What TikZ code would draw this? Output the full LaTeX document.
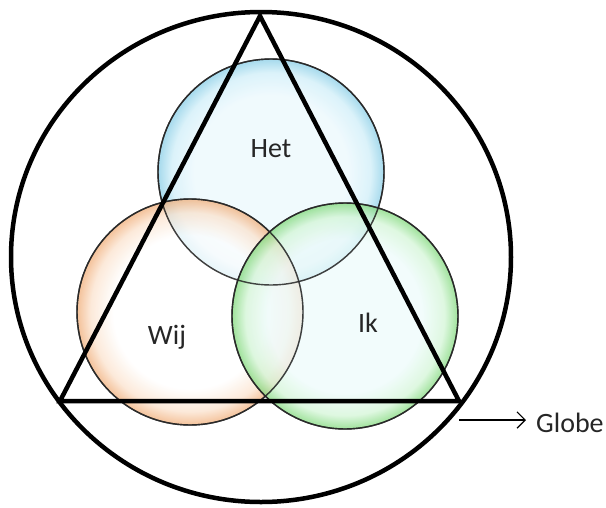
\documentclass[tikz,border=0pt]{standalone}
\usepackage{fontspec}
\setmainfont{Carlito}
\usetikzlibrary{arrows.meta}

\definecolor{hetin}{HTML}{EBF8FD}
\definecolor{hetmid}{HTML}{CFEEF8}
\definecolor{hetedge}{HTML}{88CDE6}
\definecolor{wijin}{HTML}{FFFFFF}
\definecolor{wijmid}{HTML}{FBE2CD}
\definecolor{wijedge}{HTML}{F0AD78}
\definecolor{ikin}{HTML}{EDFBFB}
\definecolor{ikmid}{HTML}{D3F5D6}
\definecolor{ikedge}{HTML}{80D87A}

\pgfdeclareradialshading{hetshade}{\pgfpoint{0bp}{0bp}}{%
  color(0bp)=(hetin); color(17bp)=(hetin); color(22bp)=(hetmid);
  color(25bp)=(hetedge); color(50bp)=(hetedge)}
\pgfdeclareradialshading{wijshade}{\pgfpoint{0bp}{0bp}}{%
  color(0bp)=(wijin); color(17bp)=(wijin); color(22bp)=(wijmid);
  color(25bp)=(wijedge); color(50bp)=(wijedge)}
\pgfdeclareradialshading{ikshade}{\pgfpoint{0bp}{0bp}}{%
  color(0bp)=(ikin); color(17bp)=(ikin); color(22bp)=(ikmid);
  color(25bp)=(ikedge); color(50bp)=(ikedge)}

\begin{document}
\begin{tikzpicture}[
    x=1pt, y=-1pt,
    bubble/.style={draw=black!85, line width=1.4pt, fill opacity=0.75, draw opacity=0.85},
    frame/.style={draw=black, line width=4.5pt},
    word/.style={font=\fontsize{28}{32}\selectfont, text=black!85, inner sep=0pt, anchor=base},
    pointer/.style={-{Straight Barb[scale=2.2]}, line width=1.1pt},
  ]
  \useasboundingbox (0,0) rectangle (606,507);
  \def\rbub{113}

  % centres of the three bubbles
  \coordinate (chet) at (271,172);
  \coordinate (cwij) at (190,312);
  \coordinate (cik)  at (345,316);

  % bubbles
  \shade[bubble, shading=hetshade] (chet) circle[radius=\rbub];
  \shade[bubble, shading=wijshade] (cwij) circle[radius=\rbub];
  \shade[bubble, shading=ikshade]  (cik)  circle[radius=\rbub];
  \draw[bubble, fill opacity=0] (chet) circle[radius=\rbub];
  \draw[bubble, fill opacity=0] (cwij) circle[radius=\rbub];
  \draw[bubble, fill opacity=0] (cik)  circle[radius=\rbub];

  % labels
  \node[word] (het) at (271,157) {Het};
  \node[word] (wij) at (167,344) {Wij};
  \node[word] (ik)  at (368,332) {Ik};

  % globe and triangle
  \coordinate (mid) at (261,257);
  \draw[frame] (mid) ellipse[x radius=250, y radius=245];
  \coordinate (top) at (260,16);
  \coordinate (left) at (60,401);
  \coordinate (right) at (459,401);
  \draw[frame] (top) -- (left) -- (right) -- cycle;

  % pointer to the globe
  \node[word, anchor=base west] (globe) at (536,432) {Globe};
  \coordinate (gstart) at (459,420);
  \draw[pointer, shorten >=10pt] (gstart) -- (gstart -| globe.west);
\end{tikzpicture}
\end{document}
